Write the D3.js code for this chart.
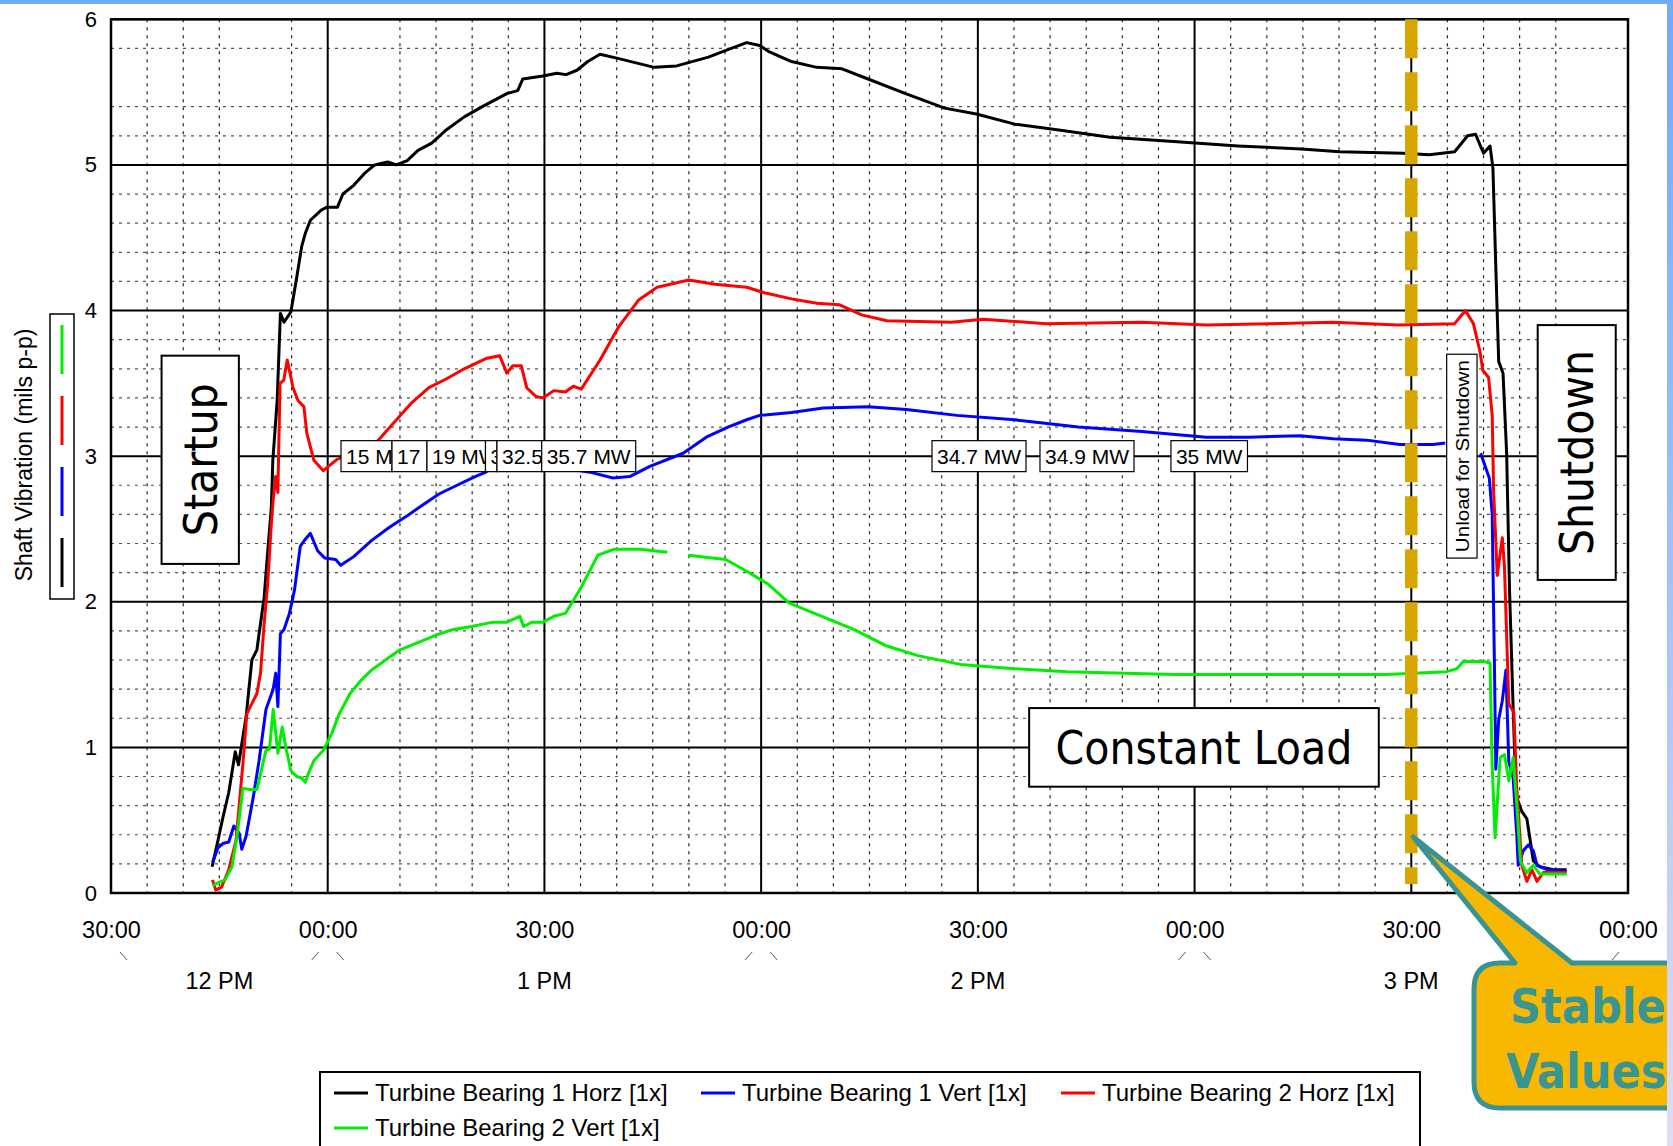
<!DOCTYPE html>
<html>
<head>
<meta charset="utf-8">
<script src="https://cdn.jsdelivr.net/npm/d3@7"></script>
<style>
body { margin: 0; background: #fff; overflow: hidden; }
svg { display: block; font-family: 'Liberation Sans', Arial, sans-serif; }
</style>
</head>
<body>
<script>
// time is minutes after 12:00, value is mils p-p
var bearing1Horz = [[44.0,0.18],[44.8,0.36],[45.5,0.52],[46.3,0.69],[47.2,0.97],[47.65,0.88],[48.7,1.21],[49.5,1.6],[50.2,1.67],[50.5,1.78],[51.2,2.03],[51.7,2.35],[52.2,2.65],[52.4,2.97],[53.0,3.38],[53.45,3.98],[53.95,3.92],[54.9,3.99],[55.65,4.21],[56.4,4.44],[56.9,4.53],[57.6,4.62],[59.1,4.69],[59.9,4.71],[61.35,4.71],[62.1,4.80],[63.6,4.86],[65.05,4.94],[66.5,5.0],[68.3,5.02],[69.5,5.0],[71,5.03],[72.5,5.1],[74.4,5.15],[76.4,5.24],[78.9,5.33],[81.4,5.40],[84.8,5.49],[86.3,5.51],[87.0,5.59],[89.8,5.61],[91.7,5.63],[93.0,5.62],[94.5,5.65],[96,5.71],[97.7,5.76],[100.3,5.73],[105.2,5.67],[108.3,5.68],[112.7,5.74],[115.3,5.79],[118,5.84],[119.8,5.82],[121,5.78],[124.2,5.71],[127.7,5.67],[131.2,5.66],[134.8,5.59],[140,5.49],[145.4,5.39],[149.8,5.35],[155.1,5.28],[161.2,5.24],[168.3,5.19],[177.1,5.16],[186,5.13],[194.8,5.11],[200.1,5.09],[208.9,5.08],[212.5,5.07],[216,5.09],[217.8,5.20],[218.9,5.21],[220,5.08],[220.9,5.13],[221.3,4.98],[221.7,4.30],[222.1,3.65],[222.7,3.57],[223.2,3.02],[223.6,2.08],[224.1,1.27],[224.5,0.67],[225.3,0.56],[226,0.51],[226.9,0.22],[227.8,0.18],[229.7,0.16],[231.5,0.16]];
var bearing1Vert = [[44.05,0.21],[44.8,0.31],[45.5,0.34],[46.3,0.35],[47.0,0.46],[47.75,0.41],[48.1,0.30],[48.7,0.39],[49.7,0.66],[50.5,0.91],[51.45,1.26],[52.45,1.40],[52.8,1.51],[53.1,1.28],[53.45,1.78],[53.95,1.81],[54.7,1.92],[55.4,2.08],[56.2,2.38],[56.9,2.43],[57.6,2.47],[58.6,2.35],[59.6,2.30],[61.1,2.29],[61.8,2.25],[63.6,2.31],[66.05,2.42],[68.5,2.51],[71,2.59],[73,2.66],[75.4,2.74],[77.9,2.80],[80.4,2.86],[81.9,2.89],[83.5,2.95],[84.8,2.90],[88,2.95],[92,2.93],[95,2.90],[96.3,2.89],[99.5,2.85],[101.8,2.86],[104.6,2.93],[109.2,3.02],[112.4,3.13],[115.4,3.20],[118,3.25],[119.8,3.28],[124.2,3.30],[128.6,3.33],[134.8,3.34],[140.1,3.32],[147.1,3.28],[155.1,3.25],[163.9,3.20],[172.7,3.17],[181.6,3.13],[187.5,3.13],[194.6,3.14],[199.2,3.12],[203.8,3.11],[208.4,3.08],[213,3.08],[214.7,3.09],[215,null],[219.6,3.02],[220.3,2.92],[220.8,2.85],[221.2,2.6],[221.5,1.6],[221.7,0.85],[222.1,1.19],[222.6,1.32],[223.1,1.53],[223.5,0.90],[224.1,0.79],[224.6,0.40],[224.8,0.19],[225.5,0.29],[226.2,0.33],[226.9,0.29],[227.4,0.19],[228.8,0.16],[231.5,0.15]];
var bearing2Horz = [[44.05,0.09],[44.5,0.02],[45.3,0.04],[46.3,0.16],[47.3,0.36],[48.3,0.91],[48.8,1.23],[49.5,1.30],[50.2,1.37],[50.7,1.51],[51.2,1.85],[51.7,2.13],[52.2,2.54],[52.45,2.70],[52.8,2.86],[53.1,2.75],[53.4,3.50],[53.9,3.52],[54.4,3.66],[55.2,3.47],[55.9,3.38],[56.7,3.34],[57.1,3.16],[58.1,2.97],[59.4,2.90],[60.6,2.95],[61.35,2.98],[65.8,3.05],[67,3.11],[69,3.22],[71.5,3.36],[74,3.47],[76.4,3.53],[78.9,3.60],[81.9,3.67],[83.8,3.69],[84.8,3.57],[85.6,3.62],[86.8,3.62],[87.55,3.47],[88.8,3.41],[89.8,3.40],[91.3,3.45],[92.9,3.44],[94,3.48],[95.1,3.46],[97.7,3.66],[100.3,3.89],[103,4.07],[105.6,4.16],[110,4.21],[113.6,4.18],[118,4.16],[120.6,4.12],[124.2,4.08],[127.7,4.05],[130.8,4.04],[133.9,3.97],[137.4,3.93],[146.3,3.92],[150.7,3.94],[159.5,3.91],[172.7,3.92],[181.6,3.90],[190.4,3.91],[199.2,3.92],[208.1,3.90],[216,3.91],[217.5,4.00],[218.6,3.91],[219.5,3.72],[219.9,3.59],[220.7,3.54],[221.2,3.28],[221.4,2.76],[221.9,2.18],[222.6,2.44],[222.9,2.24],[223.5,1.30],[224.2,1.24],[224.6,0.72],[225.3,0.19],[226,0.08],[226.7,0.16],[227.4,0.08],[228.3,0.14],[231.5,0.14]];
var bearing2Vert = [[44.05,0.05],[44.8,0.07],[45.8,0.09],[46.75,0.18],[47.5,0.41],[48.25,0.72],[49.2,0.71],[50.2,0.71],[51.45,0.98],[51.95,0.99],[52.45,1.26],[52.8,1.10],[53.1,0.96],[53.7,1.14],[54.2,1.00],[54.9,0.84],[55.7,0.80],[56.4,0.79],[56.9,0.76],[57.4,0.83],[58.1,0.91],[59.4,0.98],[60.6,1.10],[61.6,1.23],[63.1,1.37],[64.6,1.46],[66.05,1.53],[68,1.60],[70,1.67],[72.5,1.72],[74.9,1.77],[77.4,1.81],[79.9,1.83],[82.9,1.86],[84.8,1.86],[86.6,1.90],[87.1,1.83],[88.3,1.86],[89.8,1.86],[91.3,1.90],[92.9,1.92],[95.1,2.10],[97.4,2.32],[99.6,2.36],[103.3,2.36],[107,2.34],[107.5,null],[109.9,2.32],[115.1,2.29],[118,2.21],[121,2.12],[123.9,1.99],[128.4,1.90],[132.8,1.81],[137.2,1.70],[141.7,1.63],[147.6,1.57],[155,1.54],[162.3,1.52],[177.1,1.50],[191.9,1.50],[206.6,1.50],[214.9,1.52],[216.3,1.54],[217.2,1.59],[220,1.59],[220.9,1.58],[221.2,0.87],[221.6,0.38],[222.3,0.93],[222.9,0.95],[223.5,0.77],[224.1,0.93],[224.6,0.61],[225.1,0.22],[226,0.14],[226.9,0.19],[227.8,0.13],[231.5,0.13]];

var seriesNames = ['Turbine Bearing 1 Horz [1x]', 'Turbine Bearing 1 Vert [1x]', 'Turbine Bearing 2 Horz [1x]', 'Turbine Bearing 2 Vert [1x]'];
var seriesColors = ['#000000', '#0000ff', '#ff0000', '#00ee00'];
var seriesData = [bearing1Horz, bearing1Vert, bearing2Horz, bearing2Vert];

var yTicks = [0, 1, 2, 3, 4, 5, 6];
var skipMinorY = [5.6];
var skipMinorMinutes = [50, 65, 235];

// load labels sitting on the 3 mils line (left edge time)
var mwLabels = ['15 MW', '17 MW', '19 MW', '30 MW', '32.5 MW', '35.7 MW', '34.7 MW', '34.9 MW', '35 MW'];
var mwTimes = [61.84, 68.9, 73.74, 81.84, 83.43, 89.62, 143.65, 158.6, 176.73];

// text boxes: [label, t0, t1, v0, v1, font size, text length, vertical]
var noteBoxes = [
    ['Startup', 37.0, 47.7, 2.26, 3.69, 46, 153, true],
    ['Shutdown', 227.5, 238.3, 2.15, 3.90, 46, 205, true],
    ['Constant Load', 157.1, 205.5, 0.73, 1.27, 46, 297, false],
    ['Unload for Shutdown', 214.9, 219.1, 2.30, 3.70, 19, 192, true]
];
var stableTime = 210;

var base = new Date(2010, 5, 1, 12, 0);
function toDate(m) { return new Date(base.getTime() + m * 60000); }

var pLeft = 111, pRight = 1628, pTop = 19.3, pBottom = 893;

var xscale = d3.scaleTime().domain([toDate(30), toDate(240)]).range([pLeft, pRight]);
var yscale = d3.scaleLinear().domain([0, 6]).range([pBottom, pTop]);

var svg = d3.select('body').append('svg')
    .attr('width', 1673)
    .attr('height', 1146);
var defs = svg.append('defs');

//minor grid
var grid = svg.append('g');
xscale.ticks(d3.timeMinute.every(5)).forEach(function (d) {
    var m = Math.round((d - base) / 60000);
    if (m % 30 === 0 || skipMinorMinutes.indexOf(m) >= 0) return;
    grid.append('line')
        .attr('x1', xscale(d)).attr('x2', xscale(d))
        .attr('y1', pTop).attr('y2', pBottom)
        .attr('stroke', '#222').attr('stroke-width', 1.2)
        .attr('stroke-dasharray', '3,5');
});
d3.range(0, 6.01, 0.2).forEach(function (v) {
    v = Math.round(v * 10) / 10;
    if (v % 1 === 0 || skipMinorY.indexOf(v) >= 0) return;
    grid.append('line')
        .attr('x1', pLeft).attr('x2', pRight)
        .attr('y1', yscale(v)).attr('y2', yscale(v))
        .attr('stroke', '#555').attr('stroke-width', 1.2)
        .attr('stroke-dasharray', '3,5');
});

//major grid
xscale.ticks(d3.timeMinute.every(30)).forEach(function (d) {
    grid.append('line')
        .attr('x1', xscale(d)).attr('x2', xscale(d))
        .attr('y1', pTop).attr('y2', pBottom)
        .attr('stroke', '#000').attr('stroke-width', 2);
});
yTicks.forEach(function (v) {
    grid.append('line')
        .attr('x1', pLeft).attr('x2', pRight)
        .attr('y1', yscale(v)).attr('y2', yscale(v))
        .attr('stroke', '#000').attr('stroke-width', 2);
});

//series lines
var line = d3.line()
    .defined(function (d) { return d[1] != null; })
    .x(function (d) { return xscale(toDate(d[0])); })
    .y(function (d) { return yscale(d[1]); });

seriesData.forEach(function (s, i) {
    svg.append('path')
        .datum(s)
        .attr('d', line)
        .attr('fill', 'none')
        .attr('stroke', seriesColors[i])
        .attr('stroke-width', 3)
        .attr('stroke-linejoin', 'round');
});

//plot border
svg.append('rect')
    .attr('x', pLeft).attr('y', pTop)
    .attr('width', pRight - pLeft).attr('height', pBottom - pTop)
    .attr('fill', 'none').attr('stroke', '#000').attr('stroke-width', 2.5);

//axes
var yaxis = svg.append('g')
    .attr('transform', 'translate(' + pLeft + ',0)')
    .call(d3.axisLeft(yscale).tickValues(yTicks).tickFormat(d3.format('d')).tickSize(0).tickPadding(14));
yaxis.select('.domain').remove();
yaxis.selectAll('text').attr('font-size', 22).attr('font-family', 'Liberation Sans, Arial').attr('fill', '#000');

var xaxis = svg.append('g')
    .attr('transform', 'translate(0,' + pBottom + ')')
    .call(d3.axisBottom(xscale).ticks(d3.timeMinute.every(30)).tickFormat(d3.timeFormat('%M:%S')).tickSize(0).tickPadding(28));
xaxis.select('.domain').remove();
xaxis.selectAll('text').attr('font-size', 23.5).attr('font-family', 'Liberation Sans, Arial').attr('fill', '#000');

//hour labels and separators
var dom = xscale.domain();
var bounds = [dom[0]].concat(d3.timeHour.range(dom[0], dom[1])).concat([dom[1]]);
bounds = bounds.filter(function (d, i) { return i === 0 || +d !== +bounds[i - 1]; });
bounds.forEach(function (d, i) {
    var bx = xscale(d);
    if (i > 0) {
        svg.append('line').attr('x1', bx - 16).attr('y1', 960).attr('x2', bx - 9).attr('y2', 952)
            .attr('stroke', '#555').attr('stroke-width', 1);
        var mid = new Date((+bounds[i - 1] + +d) / 2);
        svg.append('text')
            .attr('x', xscale(mid)).attr('y', 989)
            .attr('text-anchor', 'middle')
            .attr('font-size', 23.5)
            .text(d3.timeFormat('%-I %p')(bounds[i - 1]));
    }
    if (i < bounds.length - 1) {
        svg.append('line').attr('x1', bx + 9).attr('y1', 952).attr('x2', bx + 16).attr('y2', 960)
            .attr('stroke', '#555').attr('stroke-width', 1);
    }
});

//y label and small series key
svg.append('text')
    .attr('transform', 'translate(32,455) rotate(-90)')
    .attr('text-anchor', 'middle')
    .attr('font-size', 23)
    .text('Shaft Vibration (mils p-p)');
svg.append('rect')
    .attr('x', 50).attr('y', 314).attr('width', 24).attr('height', 285)
    .attr('fill', 'none').attr('stroke', '#000').attr('stroke-width', 1.5);
[3, 2, 1, 0].forEach(function (si, k) {
    svg.append('line')
        .attr('x1', 62).attr('x2', 62)
        .attr('y1', 325 + k * 71).attr('y2', 374 + k * 71)
        .attr('stroke', seriesColors[si]).attr('stroke-width', 3);
});

//MW load labels, each one cut where the next one starts
mwLabels.forEach(function (lab, i) {
    var lx = xscale(toDate(mwTimes[i]));
    var g = svg.append('g');
    var r = g.append('rect')
        .attr('x', lx).attr('y', yscale(3) - 15.5).attr('height', 31)
        .attr('fill', '#fff').attr('stroke', '#000').attr('stroke-width', 1.2);
    var t = g.append('text')
        .attr('x', lx + 5).attr('y', yscale(3) + 7.5)
        .attr('font-size', 21)
        .text(lab);
    var w = t.node().getComputedTextLength() + 10;
    if (i < mwLabels.length - 1) {
        var nx = xscale(toDate(mwTimes[i + 1]));
        if (nx < lx + w) {
            w = nx - lx;
            // keep only the characters that show before the next box
            var n = lab.length;
            while (n > 1 && t.node().getSubStringLength(0, n - 1) + 5 > w - 4) n--;
            t.text(lab.slice(0, n));
        }
    }
    r.attr('width', w);
    defs.append('clipPath').attr('id', 'mwclip' + i)
        .append('rect').attr('x', lx).attr('y', yscale(3) - 15).attr('width', w - 0.6).attr('height', 30);
    t.attr('clip-path', 'url(#mwclip' + i + ')');
});

//stable values marker
svg.append('line')
    .attr('x1', xscale(toDate(stableTime))).attr('x2', xscale(toDate(stableTime)))
    .attr('y1', pTop).attr('y2', 884)
    .attr('stroke', '#d8a600').attr('stroke-width', 12.5)
    .attr('stroke-dasharray', '39,14');

//annotation boxes
noteBoxes.forEach(function (b) {
    var x0 = xscale(toDate(b[1])), x1 = xscale(toDate(b[2]));
    var y0 = yscale(b[4]), y1 = yscale(b[3]);
    var big = b[5] > 30;
    svg.append('rect')
        .attr('x', x0).attr('y', y0).attr('width', x1 - x0).attr('height', y1 - y0)
        .attr('fill', '#fff').attr('stroke', '#000').attr('stroke-width', big ? 2 : 1.2);
    var cx = (x0 + x1) / 2, cy = (y0 + y1) / 2;
    var t = svg.append('text')
        .attr('text-anchor', 'middle')
        .attr('font-size', b[5])
        .attr('font-family', big ? 'DejaVu Sans Condensed, DejaVu Sans' : 'Liberation Sans, Arial')
        .attr('textLength', b[6])
        .attr('lengthAdjust', 'spacingAndGlyphs')
        .text(b[0]);
    if (b[7]) {
        t.attr('transform', 'translate(' + (cx + b[5] * 0.36) + ',' + cy + ') rotate(-90)');
    } else {
        t.attr('x', cx).attr('y', cy + b[5] * 0.36);
    }
});

//legend
svg.append('rect')
    .attr('x', 320).attr('y', 1072).attr('width', 1100).attr('height', 100)
    .attr('fill', '#fff').attr('stroke', '#000').attr('stroke-width', 2);
var legendPos = [[334, 1093], [701, 1093], [1061, 1093], [334, 1128]];
seriesNames.forEach(function (name, i) {
    var p = legendPos[i];
    svg.append('line')
        .attr('x1', p[0]).attr('x2', p[0] + 34)
        .attr('y1', p[1]).attr('y2', p[1])
        .attr('stroke', seriesColors[i]).attr('stroke-width', 3);
    svg.append('text')
        .attr('x', p[0] + 41).attr('y', p[1] + 8)
        .attr('font-size', 24)
        .text(name);
});

//callout
var tipX = xscale(toDate(stableTime)) + 2, tipY = yscale(0.385);
var cx0 = 1474, cy0 = 963, cx1 = 1720, cy1 = 1108, cr = 26;
svg.append('path')
    .attr('d', 'M' + (cx0 + cr) + ',' + cy0 + ' L1515,' + cy0 + ' L' + tipX + ',' + tipY + ' L1572,' + cy0 +
        ' L' + cx1 + ',' + cy0 + ' L' + cx1 + ',' + cy1 + ' L' + (cx0 + cr) + ',' + cy1 +
        ' Q' + cx0 + ',' + cy1 + ' ' + cx0 + ',' + (cy1 - cr) + ' L' + cx0 + ',' + (cy0 + cr) +
        ' Q' + cx0 + ',' + cy0 + ' ' + (cx0 + cr) + ',' + cy0 + ' Z')
    .attr('fill', '#f9b800').attr('stroke', '#3b9391').attr('stroke-width', 5)
    .attr('stroke-linejoin', 'round');
svg.append('text').attr('x', 1510).attr('y', 1023)
    .attr('font-family', 'DejaVu Sans Condensed, DejaVu Sans').attr('font-weight', 'bold')
    .attr('font-size', 48).attr('fill', '#3a9490').text('Stable');
svg.append('text').attr('x', 1506).attr('y', 1088)
    .attr('font-family', 'DejaVu Sans Condensed, DejaVu Sans').attr('font-weight', 'bold')
    .attr('font-size', 48).attr('fill', '#3a9490').text('Values');

//slide frame (top bar and right strip)
var grad = defs.append('linearGradient')
    .attr('id', 'edge').attr('x1', 0).attr('y1', 0).attr('x2', 0).attr('y2', 1);
grad.append('stop').attr('offset', '0%').attr('stop-color', '#72aaf4');
grad.append('stop').attr('offset', '55%').attr('stop-color', '#a6c6f4');
grad.append('stop').attr('offset', '100%').attr('stop-color', '#e2dcf4');
svg.append('rect').attr('x', 0).attr('y', 0).attr('width', 1673).attr('height', 4).attr('fill', '#72aaf4');
svg.append('rect').attr('x', 1667).attr('y', 0).attr('width', 6).attr('height', 1146).attr('fill', 'url(#edge)');
</script>
</body>
</html>
